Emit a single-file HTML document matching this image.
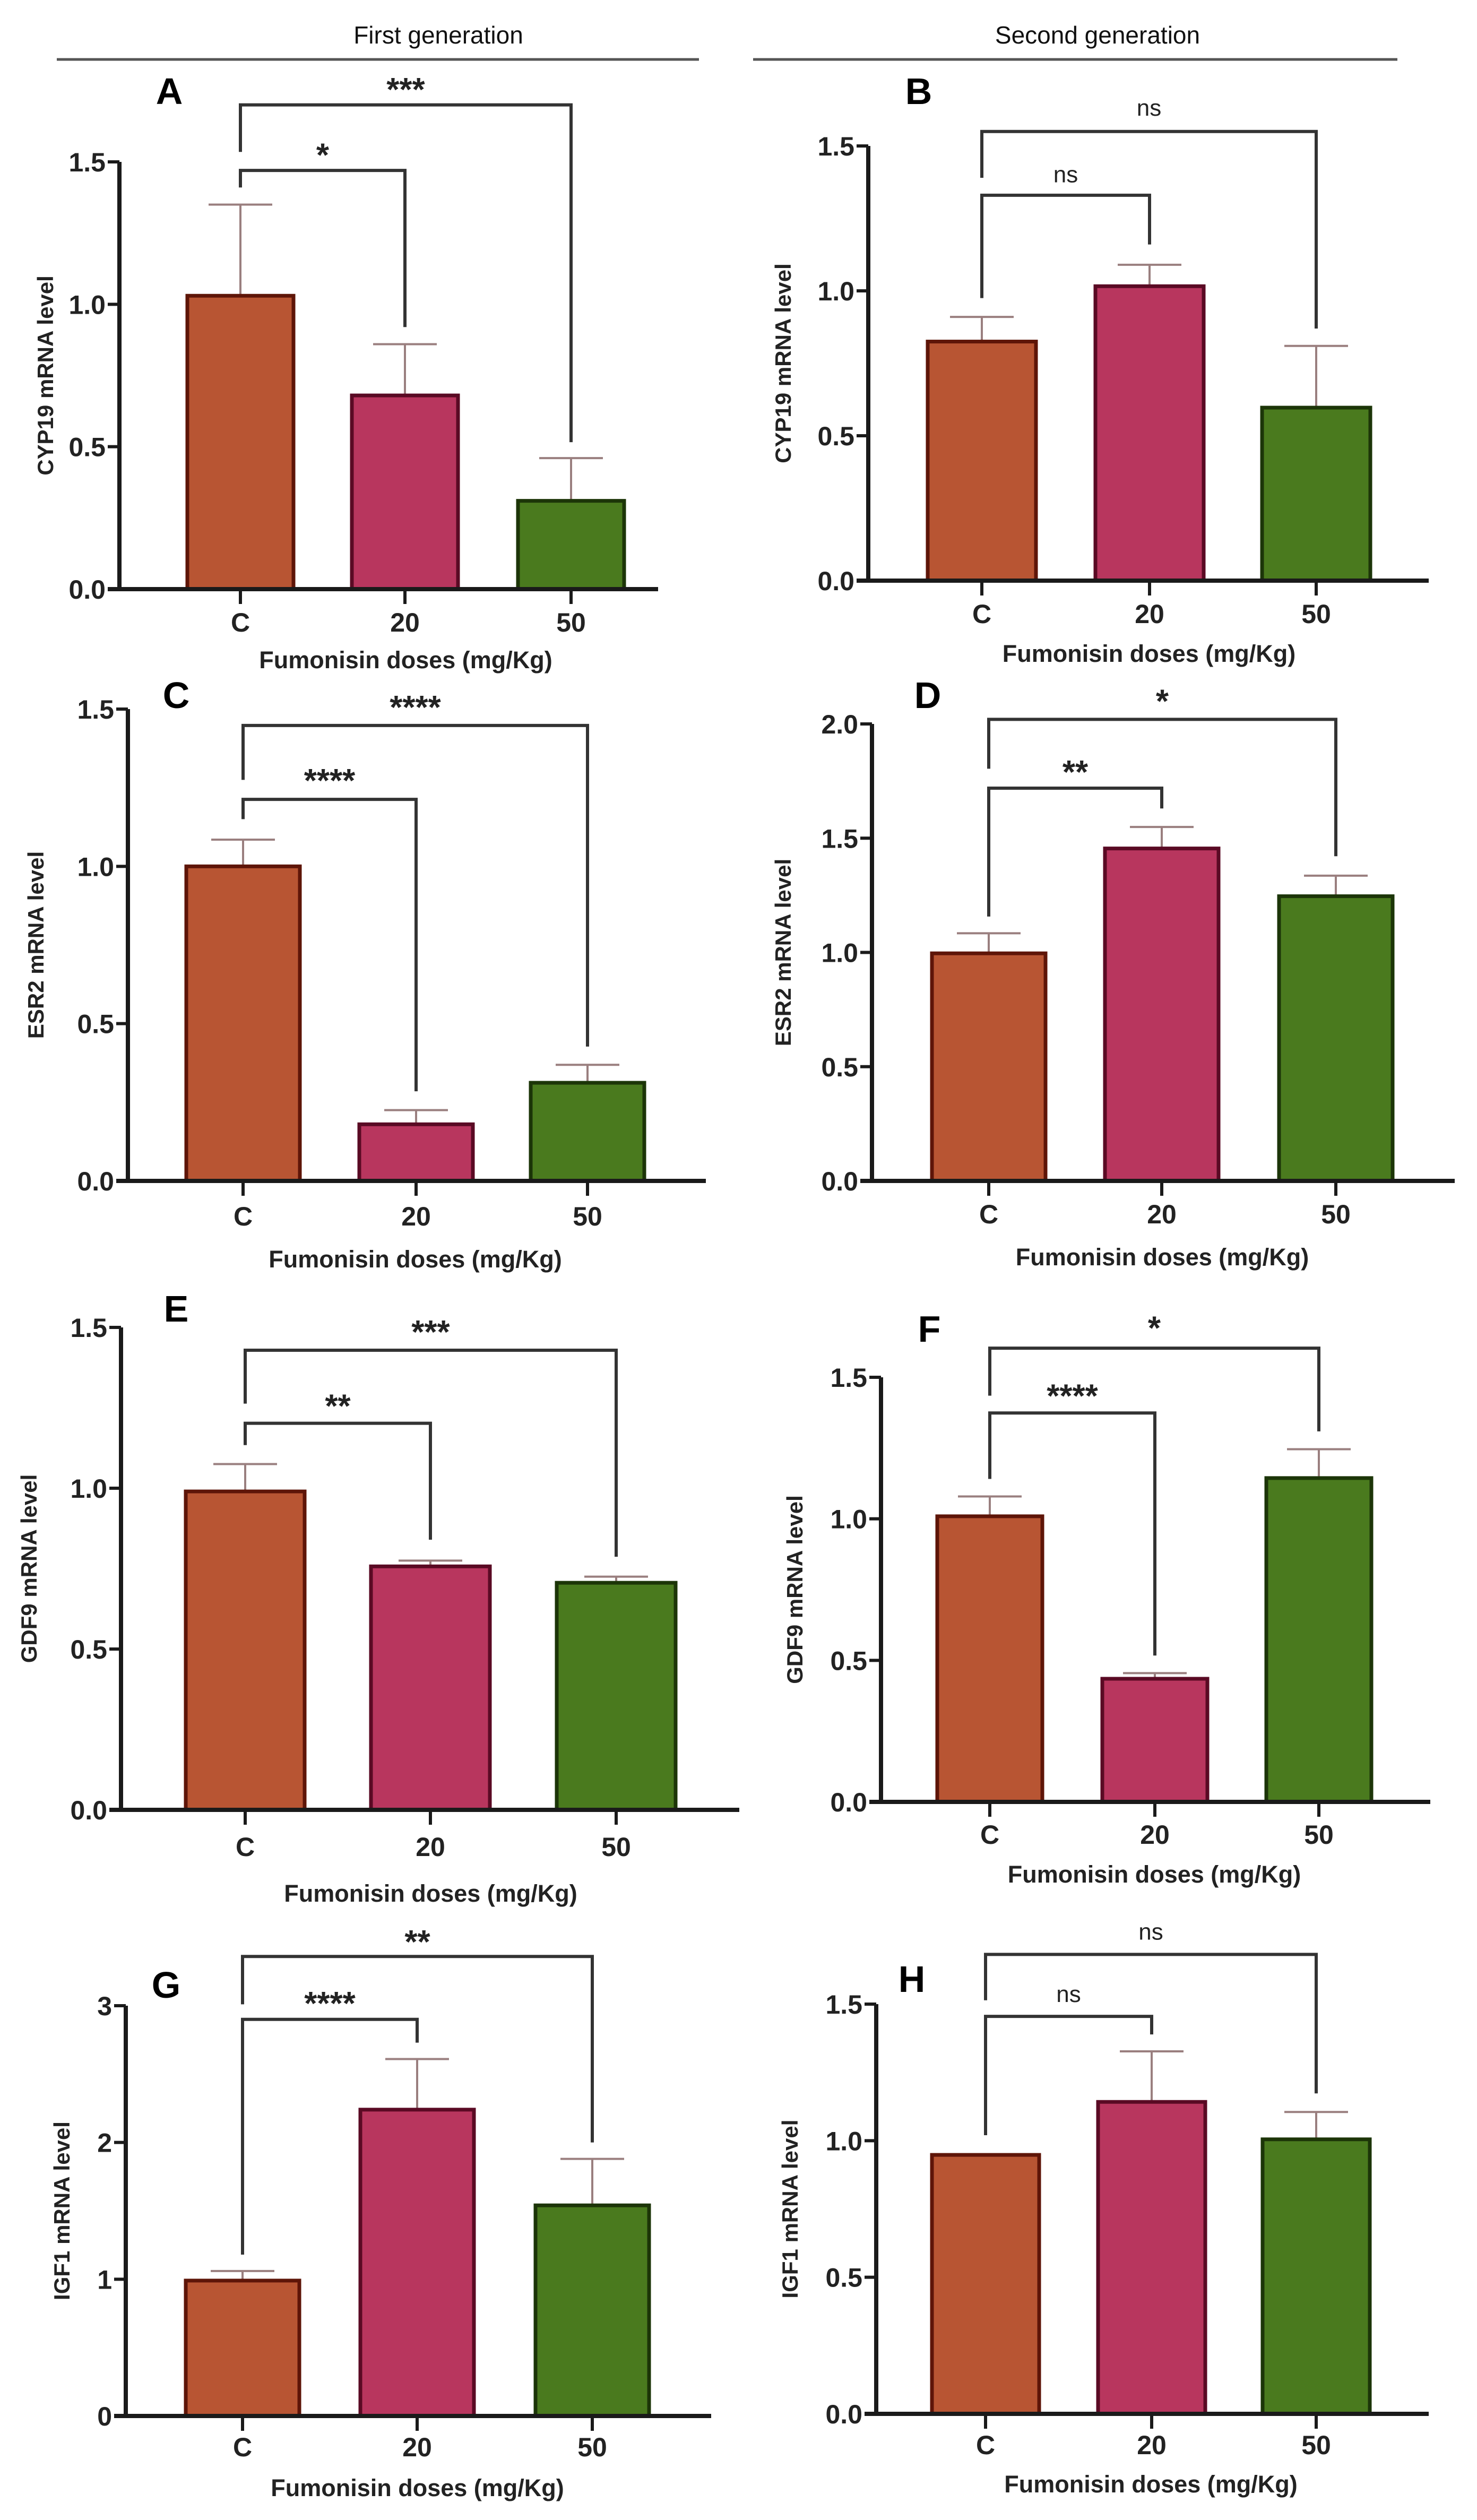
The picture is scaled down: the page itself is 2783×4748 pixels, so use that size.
<!DOCTYPE html>
<html><head><meta charset="utf-8">
<style>
html,body{margin:0;padding:0;background:#fff;}
svg{display:block;}
text{font-family:"Liberation Sans",Arial,sans-serif;}
</style></head>
<body>
<svg id="fig" width="2783" height="4748" viewBox="0 0 2783 4748" xmlns="http://www.w3.org/2000/svg">
  <g>
    <text x="826" y="82" font-size="46" text-anchor="middle" fill="#111">First generation</text>
    <line x1="107" y1="112" x2="1317" y2="112" stroke="#555" stroke-width="5"/>
  </g>
  <g>
    <text x="2068" y="82" font-size="46" text-anchor="middle" fill="#111">Second generation</text>
    <line x1="1419" y1="112" x2="2633" y2="112" stroke="#555" stroke-width="5"/>
  </g>
</svg>
<script>
// ---- data ----
const categories = ["C", "20", "50"];
const xTitle = "Fumonisin doses (mg/Kg)";
const panelLetters = ["A","B","C","D","E","F","G","H"];
const genes = ["CYP19","CYP19","ESR2","ESR2","GDF9","GDF9","IGF1","IGF1"];
const meanA = [1.03, 0.68, 0.31];  const errA = [1.35, 0.86, 0.46];
const meanB = [0.825, 1.016, 0.597]; const errB = [0.91, 1.09, 0.81];
const meanC = [1.0, 0.18, 0.312];  const errC = [1.085, 0.225, 0.369];
const meanD = [0.996, 1.455, 1.246]; const errD = [1.084, 1.549, 1.336];
const meanE = [0.99, 0.757, 0.706]; const errE = [1.075, 0.775, 0.725];
const meanF = [1.009, 0.435, 1.144]; const errF = [1.079, 0.455, 1.246];
const meanG = [0.99, 2.24, 1.54];  const errG = [1.06, 2.61, 1.88];
const meanH = [0.948, 1.142, 1.005]; const errH = [0.95, 1.327, 1.105];
const yMaxes = [1.5, 1.5, 1.5, 2.0, 1.5, 1.5, 3, 1.5];
const tickLabelsStd = ["0.0","0.5","1.0","1.5"];
const tickValuesStd = [0, 0.5, 1.0, 1.5];
const tickLabelsD = ["0.0","0.5","1.0","1.5","2.0"];
const tickValuesD = [0, 0.5, 1.0, 1.5, 2.0];
const tickLabelsG = ["0","1","2","3"];
const tickValuesG = [0, 1, 2, 3];
// significance labels [C-vs-20, C-vs-50]
const sigA = ["*", "***"]; const sigB = ["ns", "ns"];
const sigC = ["****", "****"]; const sigD = ["**", "*"];
const sigE = ["**", "***"]; const sigF = ["****", "*"];
const sigG = ["****", "**"]; const sigH = ["ns", "ns"];
// bracket levels in data units: [top, leftLegEnd, rightLegEnd, labelLevel]
const brA = [[1.47,1.41,0.92,1.54],[1.70,1.535,0.516,1.77]];
const brB = [[1.33,0.975,1.16,1.40],[1.55,1.39,0.87,1.63]];
const brC = [[1.213,1.15,0.285,1.287],[1.448,1.275,0.427,1.52]];
const brD = [[1.719,1.157,1.63,1.81],[2.02,1.804,1.421,2.12]];
const brE = [[1.202,1.134,0.84,1.27],[1.429,1.263,0.787,1.50]];
const brF = [[1.374,1.141,0.517,1.45],[1.603,1.435,1.309,1.69]];
const brG = [[2.90,1.18,2.73,3.05],[3.36,3.01,2.0,3.50]];
const brH = [[1.455,1.02,1.389,1.535],[1.682,1.514,1.173,1.763]];

// ---- layout (pixel geometry, not data) ----
const layouts = [
 {ax:225,y0:1110,yTop:305,xEnd:1240,cx:[453,763,1076],hw:100,tickY:1172,titleY:1243,yt:85,lx:319,ly:171},
 {ax:1636,y0:1094,yTop:275,xEnd:2692,cx:[1850,2166,2480],hw:102,tickY:1156,titleY:1231,yt:1475,lx:1731,ly:171},
 {ax:241,y0:2225,yTop:1336,xEnd:1330,cx:[458,784,1107],hw:107,tickY:2291,titleY:2372,yt:67,lx:332,ly:1309},
 {ax:1643,y0:2225,yTop:1364,xEnd:2741,cx:[1863,2189,2517],hw:107,tickY:2287,titleY:2368,yt:1475,lx:1748,ly:1309},
 {ax:228,y0:3410,yTop:2501,xEnd:1393,cx:[462,811,1161],hw:112,tickY:3479,titleY:3567,yt:54,lx:332,ly:2465},
 {ax:1660,y0:3395,yTop:2595,xEnd:2695,cx:[1865,2176,2485],hw:99,tickY:3456,titleY:3531,yt:1497,lx:1751,ly:2503},
 {ax:237,y0:4552,yTop:3779,xEnd:1340,cx:[457,786,1116],hw:107,tickY:4610,titleY:4687,yt:116,lx:313,ly:3739},
 {ax:1651,y0:4548,yTop:3776,xEnd:2692,cx:[1857,2170,2480],hw:101,tickY:4606,titleY:4680,yt:1488,lx:1718,ly:3728}
];
const fills = ["#b85533","#b8365e","#4a7a1e"];
const strokes = ["#5e1508","#5a0a24","#1c3508"];

const means = [meanA,meanB,meanC,meanD,meanE,meanF,meanG,meanH];
const errs = [errA,errB,errC,errD,errE,errF,errG,errH];
const sigs = [sigA,sigB,sigC,sigD,sigE,sigF,sigG,sigH];
const brs = [brA,brB,brC,brD,brE,brF,brG,brH];

const NS = "http://www.w3.org/2000/svg";
const svg = document.getElementById("fig");
function mk(tag, attrs, parent){
  const e = document.createElementNS(NS, tag);
  for (const k in attrs) e.setAttribute(k, attrs[k]);
  parent.appendChild(e);
  return e;
}

for (let p = 0; p < 8; p++) {
  const L = layouts[p];
  const yMax = yMaxes[p];
  const yS = v => L.y0 - (v / yMax) * (L.y0 - L.yTop);
  const xS = i => L.cx[i];
  const tv = p === 3 ? tickValuesD : (p === 6 ? tickValuesG : tickValuesStd);
  const tl = p === 3 ? tickLabelsD : (p === 6 ? tickLabelsG : tickLabelsStd);

  const g = mk("g", {}, svg);
  
  

  const letter = mk("text", {x:L.lx, y:L.ly+25, "font-size":70, "font-weight":"bold", "text-anchor":"middle", fill:"#000"}, g);
  letter.textContent = panelLetters[p];
  
  

  for (let i = 0; i < 3; i++) {
    const top = yS(means[p][i]);
    const eTop = yS(errs[p][i]);
    const eb = mk("g", {}, g);
    
    
    mk("line", {x1:xS(i), y1:top, x2:xS(i), y2:eTop, stroke:"#9a7f7f", "stroke-width":4}, eb);
    mk("line", {x1:xS(i)-60, y1:eTop, x2:xS(i)+60, y2:eTop, stroke:"#9a7f7f", "stroke-width":4}, eb);
    const bar = mk("rect", {x:xS(i)-L.hw, y:top, width:2*L.hw, height:L.y0-top, fill:fills[i], stroke:strokes[i], "stroke-width":7}, g);
    
    
  }

  const ya = mk("g", {}, g);
  
  
  mk("line", {x1:L.ax, y1:L.yTop, x2:L.ax, y2:L.y0+4, stroke:"#1a1a1a", "stroke-width":8}, ya);
  for (let k = 0; k < tv.length; k++) {
    const y = yS(tv[k]);
    mk("line", {x1:L.ax-22, y1:y, x2:L.ax, y2:y, stroke:"#1a1a1a", "stroke-width":6}, ya);
    const t = mk("text", {x:L.ax-26, y:y+18, "font-size":50, "font-weight":"bold", "text-anchor":"end", fill:"#222"}, ya);
    t.textContent = tl[k];
    
    
  }
  const xa = mk("g", {}, g);
  
  
  mk("line", {x1:L.ax-22, y1:L.y0, x2:L.xEnd, y2:L.y0, stroke:"#1a1a1a", "stroke-width":8}, xa);
  for (let i = 0; i < 3; i++) {
    mk("line", {x1:xS(i), y1:L.y0, x2:xS(i), y2:L.y0+28, stroke:"#1a1a1a", "stroke-width":6}, xa);
    const t = mk("text", {x:xS(i), y:L.tickY+18, "font-size":50, "font-weight":"bold", "text-anchor":"middle", fill:"#222"}, xa);
    t.textContent = categories[i];
    
    
  }
  const xt = mk("text", {x:(L.cx[0]+L.cx[2])/2, y:L.titleY+16, "font-size":45, "font-weight":"bold", "text-anchor":"middle", fill:"#222"}, g);
  xt.textContent = xTitle;
  
  
  const ymid = (L.y0 + L.yTop) / 2;
  const yt = mk("text", {x:L.yt, y:ymid, "font-size":42, "font-weight":"bold", "text-anchor":"middle", fill:"#222", transform:"rotate(-90 " + (L.yt) + " " + ymid + ")", dy:"15"}, g);
  yt.textContent = genes[p] + " mRNA level";
  
  

  for (let b = 0; b < 2; b++) {
    const br = brs[p][b];
    const xr = xS(b + 1);
    const xl = xS(0);
    const bg = mk("g", {}, g);
    
    
    mk("polyline", {points: xl+","+yS(br[1])+" "+xl+","+yS(br[0])+" "+xr+","+yS(br[0])+" "+xr+","+yS(br[2]), fill:"none", stroke:"#333", "stroke-width":6}, bg);
    const isNs = sigs[p][b] === "ns";
    const st = mk("text", {x:(xl+xr)/2, y:yS(br[3]) + (isNs ? 14 : 30), "font-size": isNs ? 44 : 62, "font-weight": isNs ? "normal" : "bold", "text-anchor":"middle", fill:"#222"}, bg);
    st.textContent = sigs[p][b];
    
    
  }
}
</script>
</body></html>
